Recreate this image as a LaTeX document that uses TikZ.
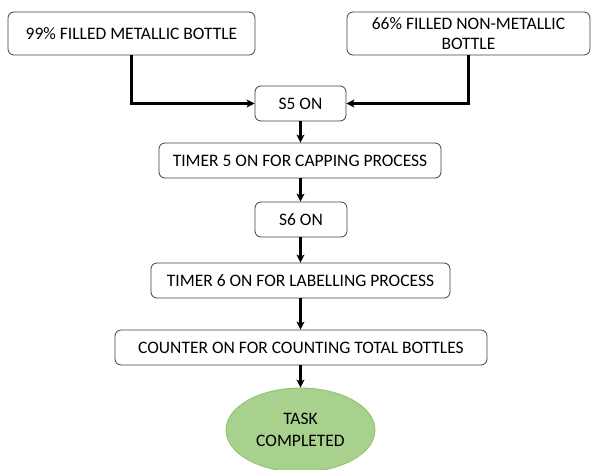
\documentclass[tikz,border=0pt]{standalone}
\usepackage{fontspec}
\setmainfont{Carlito}
\usetikzlibrary{arrows.meta,shapes.geometric}
\definecolor{boxline}{HTML}{404040}
\definecolor{ellfill}{HTML}{A9D18E}
\definecolor{ellline}{HTML}{8CBF6A}
\tikzset{
  box/.style={draw=boxline, line width=0.8pt, rounded corners=6pt, fill=white,
    font=\fontsize{17.5}{20}\selectfont, align=center, inner sep=0pt},
  conn/.style={line width=2.2pt, -{Stealth[length=8pt,width=8pt,inset=2pt]}},
  endell/.style={ellipse, draw=ellline, line width=0.8pt, fill=ellfill,
    font=\fontsize{17.5}{22}\selectfont, align=center, inner sep=0pt}
}
\begin{document}
\begin{tikzpicture}[x=1pt,y=-1pt]
\useasboundingbox (0,0) rectangle (592,469);
\node[box, minimum width=247pt, minimum height=43pt] (b1) at (131.5,33.5) {99\% FILLED METALLIC BOTTLE};
\node[box, minimum width=243pt, minimum height=43pt] (b2) at (468.5,33.5) {66\% FILLED NON-METALLIC\\BOTTLE};
\node[box, minimum width=91pt, minimum height=35pt] (s5) at (300.5,103.5) {S5 ON};
\node[box, minimum width=282pt, minimum height=35pt] (t5) at (300,160.5) {TIMER 5 ON FOR CAPPING PROCESS};
\node[box, minimum width=92pt, minimum height=35pt] (s6) at (301,219.5) {S6 ON};
\node[box, minimum width=299pt, minimum height=35pt] (t6) at (300.5,280.5) {TIMER 6 ON FOR LABELLING PROCESS};
\node[box, minimum width=372pt, minimum height=35pt] (ct) at (301,347.5) {COUNTER ON FOR COUNTING TOTAL BOTTLES};
\node[endell, minimum width=149pt, minimum height=84pt] (end) at (300.5,430) {TASK\\COMPLETED};
\draw[conn] (b1.south) |- (s5.west);
\draw[conn] (b2.south) |- (s5.east);
\draw[conn] (s5.south) -- (t5.north -| s5.south);
\draw[conn] (t5.south -| s5.south) -- (s6.north -| s5.south);
\draw[conn] (s6.south -| s5.south) -- (t6.north -| s5.south);
\draw[conn] (t6.south -| s5.south) -- (ct.north -| s5.south);
\draw[conn] (ct.south -| s5.south) -- (end.north -| s5.south);
\end{tikzpicture}
\end{document}
